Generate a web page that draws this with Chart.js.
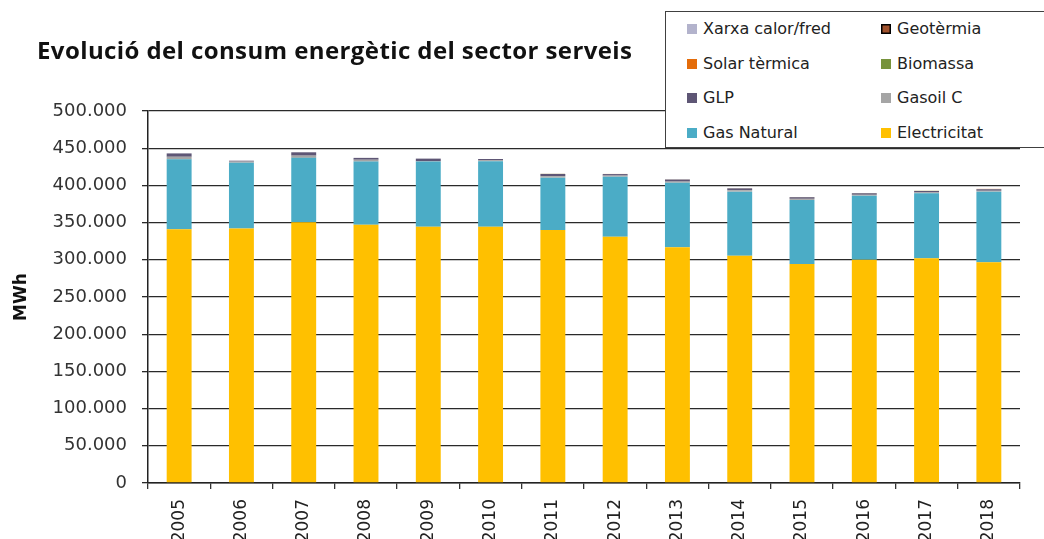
<!DOCTYPE html>
<html>
<head>
<meta charset="utf-8">
<script src="https://cdn.jsdelivr.net/npm/chart.js@4.4.1/dist/chart.umd.min.js"></script>
<style>
body{margin:0;background:#fff;overflow:hidden}
#wrap{position:relative;width:1044px;height:539px}
#title{position:absolute;left:37px;top:33px;font:bold 24px "Open Sans";letter-spacing:0.4px;color:#111;white-space:nowrap}
#legend{position:absolute;left:665px;top:11px;width:400px;height:135px;border:1.5px solid #404040;background:#fff}
.item{position:absolute;font:16px "DejaVu Sans";color:#222;white-space:nowrap;line-height:20px}
.sw{display:inline-block;width:10px;height:10px;margin-right:6px;vertical-align:0px}
</style>
</head>
<body>
<div id="wrap">
<canvas id="chart" width="1044" height="539"></canvas>
<div id="title">Evolució del consum energètic del sector serveis</div>
<div id="legend"></div>
</div>
<script>
const years = ["2005","2006","2007","2008","2009","2010","2011","2012","2013","2014","2015","2016","2017","2018"]

// MWh per font d'energia, de baix a dalt de la columna
const electricitat = [341000,342000,350500,347000,344500,344500,340000,331000,317000,305600,294500,299900,302000,296800]
const gasNatural   = [94000,88500,86500,85000,87500,88000,70400,80700,86600,86000,86000,86300,87400,94800]
const gasoilC      = [3500,1500,3000,2500,500,1500,2000,1500,1500,2000,1500,1200,1200,1200]
const glp          = [4500,1200,4500,2500,3500,1500,3000,2000,2800,2400,2100,2000,1900,2000]
const biomassa     = [0,0,0,0,0,0,100,100,100,200,200,200,200,200]
const solarTermica = [0,0,0,0,0,0,100,100,100,100,100,100,100,300]
const geotermia    = [0,0,0,0,0,0,0,0,0,0,0,0,0,0]
const xarxa        = [0,0,0,0,0,0,0,0,0,0,0,0,0,0]

const yTicks = [0,50000,100000,150000,200000,250000,300000,350000,400000,450000,500000]

const series = [
{ label:"Electricitat", data:electricitat, color:"#FFC000" },
{ label:"Gas Natural", data:gasNatural, color:"#4BACC6" },
{ label:"Gasoil C", data:gasoilC, color:"#A5A5A5" },
{ label:"GLP", data:glp, color:"#5E5675" },
{ label:"Biomassa", data:biomassa, color:"#77933C" },
{ label:"Solar tèrmica", data:solarTermica, color:"#E46C0A" },
{ label:"Geotèrmia", data:geotermia, color:"#A0522D", border:"#000" },
{ label:"Xarxa calor/fred", data:xarxa, color:"#B3B3CC" }
]

function fmt(v){
return String(v).replace(/\B(?=(\d{3})+(?!\d))/g,".")
}

new Chart(document.getElementById("chart"),{
type:"bar",
data:{
labels:years,
datasets:series.map(s=>({
label:s.label,
data:s.data,
backgroundColor:s.color,
borderWidth:0,
categoryPercentage:1,
barPercentage:0.4
}))
},
options:{
responsive:false,
animation:false,
layout:{padding:{top:111,right:24,left:0,bottom:0}},
plugins:{legend:{display:false},tooltip:{enabled:false}},
scales:{
x:{
stacked:true,
grid:{display:true,drawOnChartArea:false,offset:true,tickLength:6,color:"#333",lineWidth:1.3},
border:{color:"#222",width:1.5},
ticks:{font:{family:"DejaVu Sans",size:17},color:"#222",minRotation:90,maxRotation:90,padding:10},
afterFit:s=>{ s.height = 56 }
},
y:{
stacked:true,
min:0,
max:500000,
afterBuildTicks:s=>{ s.ticks = yTicks.map(v=>({value:v})) },
grid:{color:"#2a2a2a",lineWidth:1.3,tickLength:6},
border:{color:"#222",width:1.5},
ticks:{font:{family:"DejaVu Sans",size:18},color:"#333",padding:15,callback:v=>fmt(v)},
title:{display:true,text:"MWh",font:{family:"DejaVu Sans",size:17,weight:"bold"},color:"#111",padding:{top:11,bottom:0}},
afterFit:s=>{ s.width = 148 }
}
}
}
})

// llegenda en dues columnes, ordre invers de la pila
const legend = document.getElementById("legend")
series.slice().reverse().forEach((s,i)=>{
const col = i % 2
const row = Math.floor(i / 2)
const item = document.createElement("div")
item.className = "item"
item.style.left = (21 + col*194) + "px"
item.style.top = (7 + row*34.7) + "px"
const sw = document.createElement("span")
sw.className = "sw"
sw.style.background = s.color
if(s.border) sw.style.boxShadow = "inset 0 0 0 1.5px " + s.border
item.appendChild(sw)
item.appendChild(document.createTextNode(s.label))
legend.appendChild(item)
})
</script>
</body>
</html>
